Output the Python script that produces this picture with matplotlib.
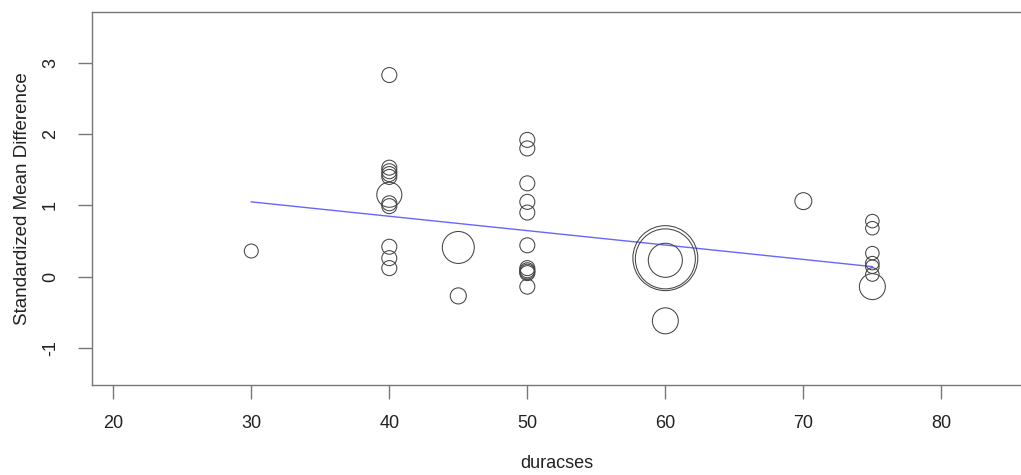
import numpy as np
import matplotlib
matplotlib.use("Agg")
import matplotlib.pyplot as plt

plt.rcParams['font.family'] = ['Liberation Sans', 'DejaVu Sans']
plt.rcParams['axes.unicode_minus'] = False

# study-level data: moderator (duracses), effect size (SMD), relative weight
duracses = [30,
            40, 40, 40, 40, 40, 40, 40, 40, 40, 40, 40,
            45, 45,
            50, 50, 50, 50, 50, 50, 50, 50, 50, 50, 50,
            60, 60, 60, 60,
            70,
            75, 75, 75, 75, 75, 75, 75]
smd = [0.36,
       2.83, 1.53, 1.48, 1.44, 1.40, 1.15, 1.03, 0.99, 0.42, 0.26, 0.12,
       0.41, -0.27,
       1.92, 1.80, 1.31, 1.05, 0.90, 0.44, 0.12, 0.09, 0.07, 0.05, -0.14,
       0.26, 0.25, 0.23, -0.62,
       1.06,
       0.78, 0.68, 0.33, 0.19, 0.14, 0.03, -0.14]
weight = [0.93,
          1.0, 1.0, 1.0, 1.0, 1.0, 1.67, 1.0, 1.0, 1.0, 1.0, 1.0,
          2.13, 1.07,
          1.0, 1.0, 1.0, 1.0, 1.0, 1.0, 1.0, 1.0, 1.0, 1.0, 1.0,
          4.33, 4.0, 2.27, 1.73,
          1.13,
          0.9, 0.9, 0.9, 0.9, 0.9, 0.9, 1.73]

# meta-regression fit
b0 = 1.656
b1 = -0.0202

xticks = [20, 30, 40, 50, 60, 70, 80]
yticks = [-1, 0, 1, 2, 3]

fig = plt.figure(figsize=(10.21, 4.75), dpi=100)
ax = fig.add_axes([0.0904, 0.190, 0.9096, 0.784])

r_px = 7.5 * np.array(weight)
s = (2 * r_px * 72 / 100) ** 2
ax.scatter(duracses, smd, s=s, facecolors='none', edgecolors='#444444',
           linewidths=0.75, zorder=3)

xs = np.array([min(duracses), max(duracses)])
ax.plot(xs, b0 + b1 * xs, color='#6666ff', lw=1, zorder=2)

ax.set_xlim(18.48, 85.77)
ax.set_ylim(-1.517, 3.71)
ax.set_xticks(xticks)
ax.set_yticks(yticks)

for sp in ['left', 'bottom', 'top']:
    ax.spines[sp].set_color('#777777')
    ax.spines[sp].set_linewidth(1)
ax.spines['right'].set_visible(False)

ax.tick_params(axis='both', length=10, width=1, color='#777777',
               labelsize=13, labelcolor='#222222', pad=12)
ax.tick_params(axis='y', labelrotation=90, pad=14)
for lab in ax.get_yticklabels():
    lab.set_va('center')

ax.set_xlabel('duracses', fontsize=13, color='#222222', labelpad=16)
ax.set_ylabel('Standardized Mean Difference', fontsize=13.5, color='#222222',
              labelpad=8)

fig.savefig('out.png', dpi=100)
